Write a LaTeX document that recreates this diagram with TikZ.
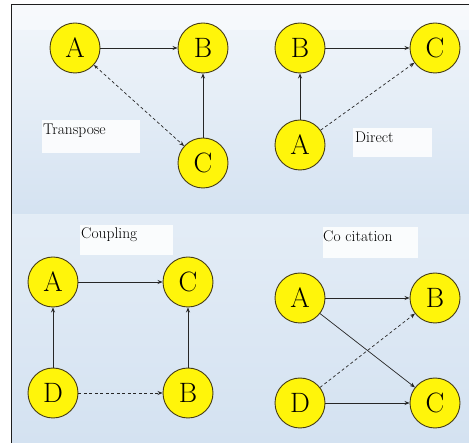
\documentclass[tikz,border=0pt]{standalone}
\usetikzlibrary{arrows.meta}
\definecolor{nodeyellow}{RGB}{255,245,10}
\definecolor{nodeedge}{RGB}{70,60,20}
\definecolor{bgtop}{RGB}{243,247,251}
\definecolor{bgbot}{RGB}{212,226,241}
\definecolor{framec}{RGB}{30,30,30}
\begin{document}
\begin{tikzpicture}[x=1pt,y=-1pt,
  vertex/.style={circle,draw=nodeedge,line width=0.9pt,fill=nodeyellow,minimum size=50pt,inner sep=0pt,font=\rmfamily\fontsize{28}{32}\selectfont},
  lbl/.style={anchor=base west,inner sep=0pt,font=\rmfamily\fontsize{15.5}{18}\selectfont},
  lblbox/.style={fill=white,opacity=0.85,draw=none},
  edge/.style={draw=black!85,line width=0.7pt,-{Stealth[length=5pt,width=4pt]}},
  dedge/.style={edge,dashed,dash pattern=on 3pt off 2.5pt}]
\useasboundingbox (0,0) rectangle (469,443);
\fill[white] (0,0) rectangle (469,443);
% background
\shade[top color=bgtop,bottom color=bgbot] (11,5) rectangle (469,215);
\shade[top color=bgtop!50!bgbot,bottom color=bgbot] (11,215) rectangle (469,443);
\fill[white,opacity=0.4] (11,5) rectangle (469,30);
% frame
\draw[framec,line width=1pt] (11,443) -- (11,5) -- (469,5);
% label boxes
\fill[lblbox] (42,120) rectangle (140,153);
\fill[lblbox] (353,128) rectangle (432,157);
\fill[lblbox] (80,225) rectangle (173,255);
\fill[lblbox] (323,227) rectangle (418,258);
% labels
\node[lbl] (tT) at (43,135) {Transpose};
\node[lbl] (tD) at (355,143) {Direct};
\node[lbl] (tC) at (81,239) {Coupling};
\node[lbl] (tCC) at (323,242) {Co citation};
% Transpose
\node[vertex] (tA) at (75,48) {A};
\node[vertex] (tB) at (203,48) {B};
\node[vertex] (tCn) at (203,163) {C};
\draw[edge] (tA) -- (tB);
\draw[edge] (tCn) -- (tB);
\draw[dedge,{Stealth[length=4pt,width=3pt]}-{Stealth[length=5pt,width=4pt]}] (tA) -- (tCn);
% Direct
\node[vertex] (dB) at (300,48) {B};
\node[vertex] (dC) at (435,48) {C};
\node[vertex] (dA) at (300,145) {A};
\draw[edge] (dA) -- (dB);
\draw[edge] (dB) -- (dC);
\draw[dedge] (dA) -- (dC);
% Coupling
\node[vertex] (cA) at (53,282) {A};
\node[vertex] (cC) at (188,282) {C};
\node[vertex] (cD) at (53,393) {D};
\node[vertex] (cB) at (188,393) {B};
\draw[edge] (cA) -- (cC);
\draw[edge] (cD) -- (cA);
\draw[edge] (cB) -- (cC);
\draw[dedge] (cD) -- (cB);
% Co citation
\node[vertex] (xA) at (300,298) {A};
\node[vertex] (xB) at (435,298) {B};
\node[vertex] (xD) at (300,403) {D};
\node[vertex] (xC) at (435,403) {C};
\draw[edge] (xA) -- (xB);
\draw[edge] (xA) -- (xC);
\draw[edge] (xD) -- (xC);
\draw[dedge] (xD) -- (xB);
\end{tikzpicture}
\end{document}
